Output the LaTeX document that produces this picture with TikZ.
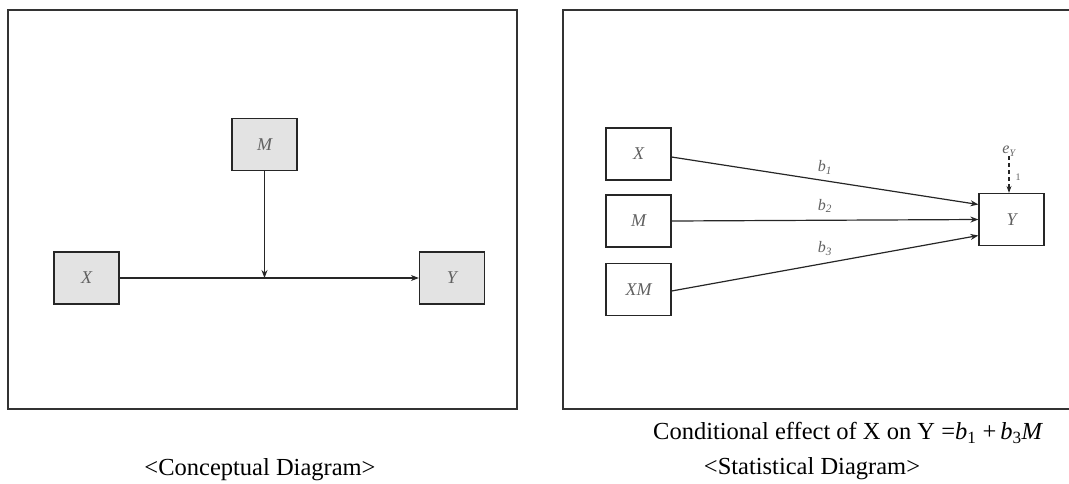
\documentclass[tikz,border=0pt]{standalone}
\usepackage{fontspec}
\setmainfont{Liberation Serif}
\usetikzlibrary{arrows.meta,calc}
\begin{document}
\begin{tikzpicture}[x=1pt,y=-1pt,
  frame/.style={draw=black!80,line width=1.4pt},
  varbox/.style={draw=black!85,line width=1.2pt,minimum width=65pt,minimum height=52pt,
    inner sep=0pt,font=\itshape\fontsize{18}{18}\selectfont,text=black!62},
  shaded/.style={varbox,fill=black!11},
  path/.style={draw=black!85,line width=1.2pt,-{Stealth[length=8pt,width=6pt]}},
  coef/.style={font=\itshape\fontsize{16}{16}\selectfont,text=black!62,inner sep=0pt},
  caption/.style={font=\fontsize{24.5}{24.5}\selectfont,inner sep=0pt}]
\useasboundingbox (0,0) rectangle (1069,483);

% conceptual model
\draw[frame] (8,10) rectangle (517,409);
\node[shaded] (cM) at (264.5,144.5) {M};
\node[shaded] (cX) at (86.5,278) {X};
\node[shaded] (cY) at (452,278) {Y};
\coordinate (cJ) at (264.5,278);
\draw[path] (cX.east) -- (cY.west);
\draw[path] (cM.south) -- (cJ);
\node[caption] (capL) at (260,470) {<Conceptual Diagram>};

% statistical model (its frame runs past the right edge)
\draw[frame] (1075,10) -- (563,10) -- (563,409) -- (1075,409);
\node[varbox] (sX) at (638.5,154) {X};
\node[varbox] (sM) at (638.5,221) {M};
\node[varbox] (sXM) at (638.5,289.5) {XM};
\node[varbox] (sY) at (1011.5,219.5) {Y};
\node[coef] (eY) at (1009,151) {e\textsubscript{\fontsize{10}{10}\selectfont Y}};
\draw[path,line width=1.4pt,dash pattern=on 4pt off 3pt,-{Stealth[length=7pt,width=5pt]}] (eY.south) -- (sY.north -| eY.south);
\node[coef,font=\fontsize{10}{10}\selectfont] (one) at (1018,177) {1};
\draw[path] ($(sX.east)+(0,3)$) -- node[coef,above=6pt,pos=0.5] (b1) {b\textsubscript{1}} ($(sY.west)+(0,-15)$);
\draw[path] (sM.east) -- node[coef,above=7pt,pos=0.5] (b2) {b\textsubscript{2}} (sY.west);
\draw[path] ($(sXM.east)+(0,1.5)$) -- node[coef,above=7pt,pos=0.5] (b3) {b\textsubscript{3}} ($(sY.west)+(0,16)$);
\node[caption,anchor=west] (capR1) at (653,433) {Conditional effect of X on Y =\textit{b}\textsubscript{1} +\,\textit{b}\textsubscript{3}\textit{M}};
\node[caption] (capR2) at (812,469) {<Statistical Diagram>};
\end{tikzpicture}
\end{document}
